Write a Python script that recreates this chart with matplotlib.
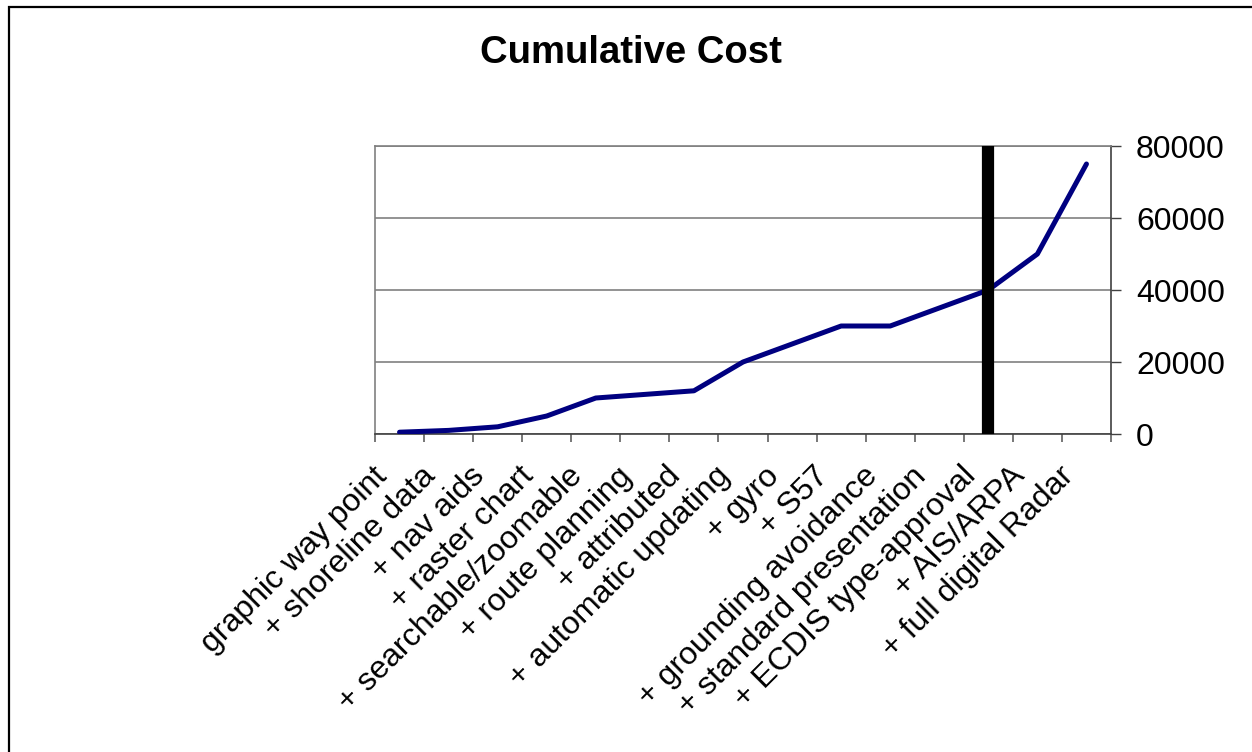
import matplotlib
matplotlib.use('Agg')
import matplotlib.pyplot as plt
import matplotlib.patches as patches
import matplotlib.transforms as mtransforms
import numpy as np

plt.rcParams['font.family'] = ['Liberation Sans', 'DejaVu Sans']

categories = ['graphic way point', '+ shoreline data', '+ nav aids', '+ raster chart',
              '+ searchable/zoomable', '+ route planning', '+ attributed',
              '+ automatic updating', '+ gyro', '+ S57', '+ grounding avoidance',
              '+ standard presentation', '+ ECDIS type-approval', '+ AIS/ARPA',
              '+ full digital Radar']
cost = [500, 1000, 2000, 5000, 10000, 11000, 12000, 20000, 25000, 30000,
        30000, 35000, 40000, 50000, 75000]
y_ticks = [0, 20000, 40000, 60000, 80000]
marker_category = '+ ECDIS type-approval'

W, H = 1252, 752
fig = plt.figure(figsize=(W / 100, H / 100), dpi=100)
ax = fig.add_axes([375 / W, 1 - 434 / H, (1111 - 375) / W, (434 - 146) / H])

x = np.arange(len(categories))
ax.plot(x, cost, color='#000080', lw=3.6, solid_capstyle='round', solid_joinstyle='round', zorder=3)
ax.axvline(categories.index(marker_category), color='black', lw=8.8, zorder=4)

ax.set_xlim(-0.5, len(categories) - 0.5)
ax.set_ylim(0, 80000)

# y axis on the right side
ax.yaxis.tick_right()
ax.set_yticks(y_ticks)
ax.set_yticklabels([str(v) for v in y_ticks], fontsize=23)
ax.tick_params(axis='y', direction='out', length=7, width=1, color='#404040', pad=11)
ax.yaxis.grid(True, color='#808080', lw=1.2)
ax.set_axisbelow(True)

# category axis: ticks between categories, labels at centers
ax.set_xticks(x)
ax.set_xticklabels(categories, fontsize=23, rotation=45, ha='right', rotation_mode='anchor')
ax.set_xticks(np.arange(-0.5, len(categories)), minor=True)
ax.tick_params(axis='x', which='major', length=0, pad=16)
ax.tick_params(axis='x', which='minor', direction='out', length=6, width=1.2, color='#606060')
shift = mtransforms.ScaledTranslation(-28 / 100, -5 / 100, fig.dpi_scale_trans)
for lab in ax.get_xticklabels():
    lab.set_transform(lab.get_transform() + shift)

for side in ['left', 'top']:
    ax.spines[side].set_color('#808080')
    ax.spines[side].set_linewidth(1.2)
ax.spines['bottom'].set_color('#404040')
ax.spines['bottom'].set_linewidth(1.2)
ax.spines['right'].set_color('#404040')
ax.spines['right'].set_linewidth(1.2)

fig.text(631 / W, 1 - 63 / H, 'Cumulative Cost', ha='center', va='baseline',
         fontsize=27.5, fontweight='bold')

# chart area border
fig.patches.append(patches.Rectangle((8.5 / W, -0.1), 1.2, 1 - 6.5 / H + 0.1,
                                     transform=fig.transFigure, fill=False,
                                     edgecolor='black', lw=1.6))

fig.savefig('out.png', dpi=100)
